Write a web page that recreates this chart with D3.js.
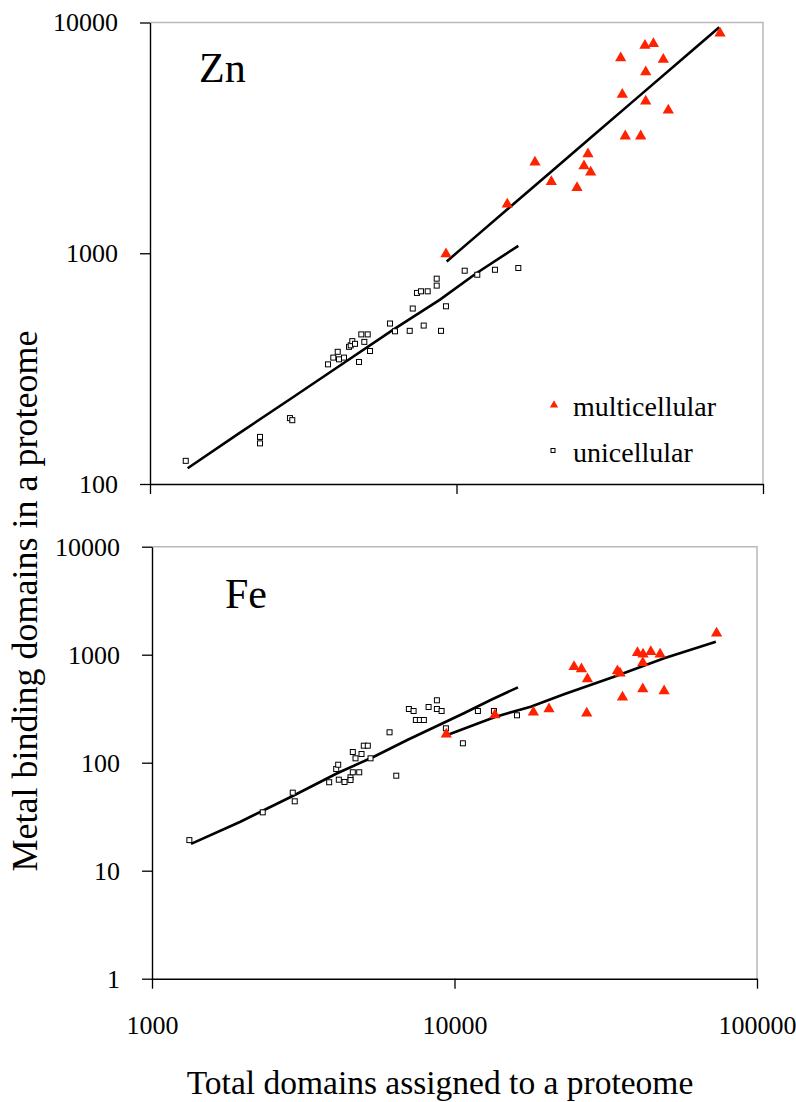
<!DOCTYPE html>
<html>
<head>
<meta charset="utf-8">
<script src="https://cdn.jsdelivr.net/npm/d3@7"></script>
<style>
  body { margin: 0; background: #fff; }
  svg text { font-family: "Liberation Serif", "Times New Roman", Tinos, "DejaVu Serif", serif; fill: #000; }
</style>
</head>
<body>
<div id="chart"></div>
<script>
// axis ticks
var xTicks = [1000, 10000, 100000];
var znYTicks = [100, 1000, 10000];
var feYTicks = [1, 10, 100, 1000, 10000];

// Zn panel - multicellular points
var znMultiX = [72400, 41200, 43900, 34330, 47290, 41430, 34750, 41430, 49090, 35530, 39900, 26850, 18030, 26060, 27400, 20390, 24730, 14640, 9240];
var znMultiY = [8990, 7955, 8090, 7010, 6920, 6100, 4870, 4556, 4168, 3218, 3218, 2690, 2477, 2388, 2243, 2043, 1924, 1631, 992];
// Zn panel - unicellular points
var znUniX = [1308, 2285, 2285, 2862, 2912, 3809, 3963, 4097, 4137, 4295, 4460, 4517, 4571, 4665, 4808, 4891, 5003, 5132, 5222, 6067, 6300, 7037, 7198, 7430, 7658, 8054, 7816, 8618, 8618, 8902, 9240, 10635, 11690, 13350, 15910];
var znUniY = [126, 160, 150, 193, 189, 330, 353, 374, 347, 353, 393, 399, 416, 405, 338, 445, 413, 445, 377, 496, 459, 461, 576, 673, 684, 684, 486, 776, 724, 461, 589, 840, 807, 848, 863];
// Zn panel - trend curves
var znUniLineX = [1327, 1967, 2862, 4066, 6220, 8836, 11640, 15910];
var znUniLineY = [117, 167, 233, 319, 467, 630, 821, 1077];
var znMultiLineX = [9290, 11340, 14950, 20180, 27270, 39690, 56370, 72000];
var znMultiLineY = [922, 1157, 1586, 2234, 3148, 4833, 7217, 9544];

// Fe panel - multicellular points
var feMultiX = [73520, 40260, 42010, 44560, 47830, 41920, 24840, 26280, 27510, 34560, 35260, 41920, 49310, 35920, 27360, 18230, 20530, 13600, 9396];
var feMultiY = [1578, 1044, 1009, 1066, 1009, 843, 774, 737, 596, 706, 673, 481, 461, 403, 287, 293, 314, 277, 183];
// Fe panel - unicellular points
var feUniX = [1329, 2323, 2919, 2964, 3852, 4064, 4126, 4145, 4329, 4531, 4531, 4611, 4611, 4707, 4842, 4927, 5014, 5169, 5277, 6099, 6419, 7066, 7324, 7453, 7683, 7920, 8210, 8746, 8746, 9064, 9366, 10660, 11950, 13500, 16090];
var feUniY = [19.2, 34.7, 52.8, 43.9, 65.9, 87.4, 95.8, 69.6, 66.3, 73.2, 69.1, 81.5, 125.6, 109.8, 81.5, 120.4, 143.7, 143.7, 109.8, 191.2, 75.8, 314.2, 301.1, 248.6, 248.6, 248.6, 328, 378.3, 314.2, 301.1, 208.2, 151.2, 301.1, 301.1, 274.8];
// Fe panel - trend curves
var feUniLineX = [1346, 1960, 2919, 4094, 5411, 6981, 10740, 13170, 16210];
var feUniLineY = [17.7, 28.4, 49.2, 79.8, 113.6, 162.3, 286.7, 380.7, 499];
var feMultiLineX = [9467, 13680, 17860, 23010, 33690, 49310, 73110];
var feMultiLineY = [180.5, 266.7, 330, 429.9, 625.6, 926.2, 1319];

var red = "#ff2200";

var svg = d3.select("#chart")
  .append("svg")
  .attr("width", 796)
  .attr("height", 1102);

function zip(xs, ys) {
  return xs.map(function(x, i) { return {x: x, y: ys[i]}; });
}

function drawPanel(p) {
  var x = d3.scaleLog().domain([1000, 100000]).range([p.left, p.right]);
  var y = d3.scaleLog().domain(p.yDomain).range([p.bottom, p.top]);

  // light frame on top and right
  svg.append("path")
    .attr("d", `M${p.left},${p.top}H${p.right}V${p.bottom}`)
    .attr("fill", "none")
    .attr("stroke", "#b8b8b8")
    .attr("stroke-width", 1.5);

  // y axis
  var yAxis = d3.axisLeft(y)
    .tickValues(p.yTicks)
    .tickFormat(d3.format("d"))
    .tickSize(10)
    .tickSizeOuter(0)
    .tickPadding(22);
  var gy = svg.append("g")
    .attr("transform", `translate(${p.left},0)`)
    .call(yAxis);
  gy.attr("font-family", null).attr("font-size", null);
  gy.selectAll("text").attr("font-size", "26px");

  // x axis
  var xAxis = d3.axisBottom(x)
    .tickValues(xTicks)
    .tickFormat(p.xLabels ? d3.format("d") : "")
    .tickSize(10)
    .tickSizeOuter(0)
    .tickPadding(27);
  var gx = svg.append("g")
    .attr("transform", `translate(0,${p.bottom})`)
    .call(xAxis);
  gx.attr("font-family", null).attr("font-size", null);
  gx.selectAll("text").attr("font-size", "26px");

  svg.selectAll(".domain").attr("stroke", "#000").attr("stroke-width", 1.4);
  svg.selectAll(".tick line").attr("stroke", "#000").attr("stroke-width", 1.3);

  var line = d3.line().x(d => x(d.x)).y(d => y(d.y));

  // trend curves
  [p.uniLine, p.multiLine].forEach(function(pts) {
    svg.append("path")
      .datum(pts)
      .attr("d", line)
      .attr("fill", "none")
      .attr("stroke", "#000")
      .attr("stroke-width", 2.6);
  });

  // unicellular squares
  svg.append("g").selectAll("rect")
    .data(p.uni)
    .enter()
    .append("rect")
    .attr("x", d => x(d.x) - 2.5)
    .attr("y", d => y(d.y) - 2.5)
    .attr("width", 5)
    .attr("height", 5)
    .attr("fill", "#fff")
    .attr("stroke", "#000")
    .attr("stroke-width", 1);

  // multicellular triangles
  var tri = d3.symbol().type(d3.symbolTriangle).size(55);
  svg.append("g").selectAll("path")
    .data(p.multi)
    .enter()
    .append("path")
    .attr("d", tri)
    .attr("transform", d => `translate(${x(d.x)},${y(d.y)})`)
    .attr("fill", red);

  // metal label
  svg.append("text")
    .attr("x", p.labelX)
    .attr("y", p.labelY)
    .attr("font-size", "42px")
    .text(p.label);
}

drawPanel({
  left: 150, right: 763, top: 22.5, bottom: 484,
  yDomain: [100, 10000], yTicks: znYTicks, xLabels: false,
  multi: zip(znMultiX, znMultiY), uni: zip(znUniX, znUniY),
  multiLine: zip(znMultiLineX, znMultiLineY), uniLine: zip(znUniLineX, znUniLineY),
  label: "Zn", labelX: 199, labelY: 82
});

drawPanel({
  left: 152, right: 757, top: 546.7, bottom: 978.7,
  yDomain: [1, 10000], yTicks: feYTicks, xLabels: true,
  multi: zip(feMultiX, feMultiY), uni: zip(feUniX, feUniY),
  multiLine: zip(feMultiLineX, feMultiLineY), uniLine: zip(feUniLineX, feUniLineY),
  label: "Fe", labelX: 225, labelY: 608
});

// legend (top panel)
var legend = svg.append("g");
legend.append("path")
  .attr("d", d3.symbol().type(d3.symbolTriangle).size(30))
  .attr("transform", "translate(554,405)")
  .attr("fill", red);
legend.append("text")
  .attr("x", 573).attr("y", 416)
  .attr("font-size", "28px")
  .text("multicellular");
legend.append("rect")
  .attr("x", 551).attr("y", 448.5)
  .attr("width", 4).attr("height", 4)
  .attr("fill", "#fff").attr("stroke", "#000").attr("stroke-width", 1);
legend.append("text")
  .attr("x", 573).attr("y", 462)
  .attr("font-size", "28px")
  .text("unicellular");

// axis titles
svg.append("text")
  .attr("x", 440).attr("y", 1094)
  .attr("text-anchor", "middle")
  .attr("font-size", "33.5px")
  .text("Total domains assigned to a proteome");

svg.append("text")
  .attr("transform", "translate(37,601) rotate(-90)")
  .attr("text-anchor", "middle")
  .attr("font-size", "36px")
  .text("Metal binding domains in a proteome");
</script>
</body>
</html>
